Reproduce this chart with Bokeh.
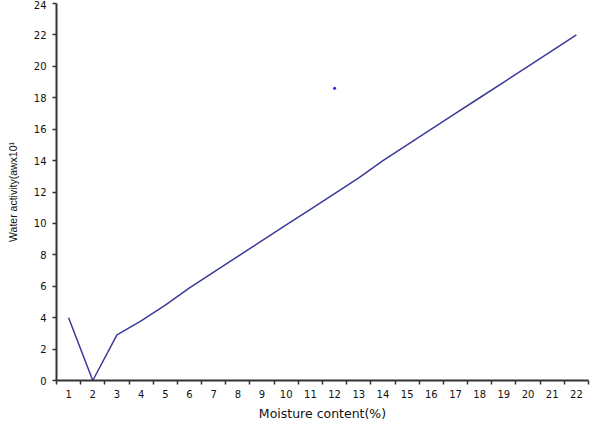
from bokeh.plotting import figure
from bokeh.models import FixedTicker, Range1d
from bokeh.embed import file_html
from bokeh.resources import INLINE

# data
moisture = list(range(1, 23))
water_activity = [4, 0, 2.9, 3.8, 4.8, 5.9, 6.9, 7.9, 8.9, 9.9, 10.9, 11.9,
                  12.9, 14.0, 15.0, 16.0, 17.0, 18.0, 19.0, 20.0, 21.0, 22.0]
stray_x = [12]
stray_y = [18.6]
y_ticks = list(range(0, 25, 2))
x_title = "Moisture content(%)"
y_title = "Water activity(awx10¹"

FONT = "DejaVu Sans"
AX = "#333333"

p = figure(width=600, height=423, output_backend="svg", toolbar_location=None,
           x_range=Range1d(0.5, 22.5), y_range=Range1d(0, 24),
           min_border_left=56, min_border_right=12, min_border_top=3,
           min_border_bottom=42)
p.outline_line_color = None
p.xgrid.visible = False
p.ygrid.visible = False
p.background_fill_color = "white"

p.line(moisture, water_activity, line_color="#3a3a9a", line_width=1.5)
p.scatter(stray_x, stray_y, size=3, color="#2222ee", line_color=None)

# x axis: labels at category centres, ticks between categories
p.xaxis.ticker = FixedTicker(ticks=moisture,
                             minor_ticks=[m - 0.5 for m in moisture] + [moisture[-1] + 0.5])
p.xaxis.major_tick_out = 0
p.xaxis.major_tick_in = 0
p.xaxis.minor_tick_out = 4
p.xaxis.minor_tick_in = 0
p.xaxis.minor_tick_line_color = AX
p.xaxis.minor_tick_line_width = 1.5
p.xaxis.major_label_standoff = 5

p.yaxis.ticker = FixedTicker(ticks=y_ticks, minor_ticks=[])
p.yaxis.major_tick_out = 4
p.yaxis.major_tick_in = 0
p.yaxis.major_tick_line_color = AX
p.yaxis.major_tick_line_width = 1.5
p.yaxis.major_label_standoff = 6

for ax in (p.xaxis, p.yaxis):
    ax.axis_line_color = AX
    ax.axis_line_width = 2
    ax.major_label_text_font = FONT
    ax.major_label_text_font_size = "10px"
    ax.major_label_text_font_style = "normal"
    ax.major_label_text_color = "#111111"
    ax.axis_label_text_font_style = "normal"
    ax.axis_label_text_color = "#111111"

p.xaxis.axis_label = x_title
p.xaxis.axis_label_text_font = FONT
p.xaxis.axis_label_text_font_size = "12.5px"
p.xaxis.axis_label_standoff = 5

p.yaxis.axis_label = y_title
p.yaxis.axis_label_text_font = "Liberation Sans"
p.yaxis.axis_label_text_font_size = "10.5px"
p.yaxis.axis_label_standoff = 12

open("out.html", "w").write(file_html(p, INLINE))
